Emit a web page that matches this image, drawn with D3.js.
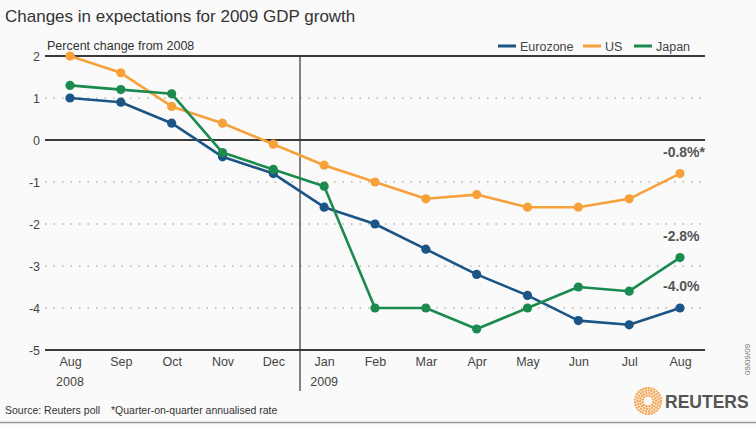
<!DOCTYPE html>
<html><head><meta charset="utf-8">
<script src="https://cdn.jsdelivr.net/npm/d3@7"></script>
<style>body{margin:0;background:#fafafa;}svg{display:block;font-family:"Liberation Sans",Arial,sans-serif;}</style>
</head><body>
<svg id="c" width="756" height="425"></svg>
<script>
const months = ["Aug","Sep","Oct","Nov","Dec","Jan","Feb","Mar","Apr","May","Jun","Jul","Aug"];
const years = ["2008","","","","","2009","","","","","","",""];
const eurozone = [1.0,0.9,0.4,-0.4,-0.8,-1.6,-2.0,-2.6,-3.2,-3.7,-4.3,-4.4,-4.0];
const us = [2.0,1.6,0.8,0.4,-0.1,-0.6,-1.0,-1.4,-1.3,-1.6,-1.6,-1.4,-0.8];
const japan = [1.3,1.2,1.1,-0.3,-0.7,-1.1,-4.0,-4.0,-4.5,-4.0,-3.5,-3.6,-2.8];
const yTicks = [2,1,0,-1,-2,-3,-4,-5];
const solidTicks = [2,0,-5];
const seriesNames = ["Eurozone","US","Japan"];
const colors = ["#1b5586","#f7a13b","#1b8a4f"];
const endLabels = ["-4.0%","-0.8%*","-2.8%"];

const svg = d3.select("#c");
const x = d3.scalePoint().domain(d3.range(months.length)).range([70,680]);
const y = d3.scaleLinear().domain([-5,2]).range([350,56]);
const left = 45, right = 705;

svg.append("rect").attr("width",756).attr("height",425).attr("fill","#fafafa");

svg.append("text").attr("x",5).attr("y",22).attr("font-size",17).attr("fill","#333")
  .text("Changes in expectations for 2009 GDP growth");

yTicks.forEach(t=>{
  const solid = solidTicks.includes(t);
  svg.append("line").attr("x1",left).attr("x2",right).attr("y1",y(t)).attr("y2",y(t))
    .attr("stroke",solid?"#3a3a3a":"#b5b5b5").attr("stroke-width",solid?2.2:1.6)
    .attr("stroke-dasharray",solid?null:"1.5,7");
});
const yAxis = d3.axisLeft(y).tickValues(yTicks).tickSize(0).tickPadding(0).tickFormat(d=>String(d));
const ya = svg.append("g").attr("transform","translate(40,0)").call(yAxis);
ya.select(".domain").remove();
ya.selectAll("text").attr("font-size",12.5).attr("fill","#444").attr("font-family","Liberation Sans, Arial, sans-serif").attr("dy","0.35em");

svg.append("text").attr("x",47).attr("y",50).attr("font-size",12.5).attr("fill","#333").text("Percent change from 2008");

svg.append("line").attr("x1",300).attr("x2",300).attr("y1",y(2)).attr("y2",391).attr("stroke","#333").attr("stroke-width",1.2);

const xAxis = d3.axisBottom(x).tickSize(0).tickPadding(0).tickFormat(i=>months[i]);
const xa = svg.append("g").attr("transform","translate(0,362)").call(xAxis);
xa.select(".domain").remove();
xa.selectAll("text").attr("font-size",12.5).attr("fill","#444").attr("font-family","Liberation Sans, Arial, sans-serif").attr("dy","0.35em");
years.forEach((yr,i)=>{ if(yr) svg.append("text").attr("x",x(i)).attr("y",386).attr("text-anchor","middle").attr("font-size",12.5).attr("fill","#444").text(yr); });

const data = [eurozone, us, japan];
const line = d3.line().x((d,i)=>x(i)).y(d=>y(d));
const order = [1,0,2];
order.forEach(k=>{
  const g = svg.append("g");
  g.append("path").attr("d",line(data[k])).attr("fill","none").attr("stroke",colors[k]).attr("stroke-width",2.6).attr("stroke-linejoin","round");
  g.selectAll("circle").data(data[k]).join("circle").attr("cx",(d,i)=>x(i)).attr("cy",d=>y(d)).attr("r",4.6).attr("fill",colors[k]);
});

data.forEach((s,k)=>{
  const last = s[s.length-1];
  svg.append("text").attr("x",x(s.length-1)-17).attr("y",y(last)-17).attr("font-size",14).attr("font-weight","bold").attr("fill","#555").text(endLabels[k]);
});

const legX = [498,583,634];
seriesNames.forEach((n,k)=>{
  svg.append("line").attr("x1",legX[k]).attr("x2",legX[k]+18).attr("y1",46).attr("y2",46).attr("stroke",colors[k]).attr("stroke-width",3);
  svg.append("text").attr("x",legX[k]+22).attr("y",50.5).attr("font-size",12.5).attr("fill","#444").text(n);
});

svg.append("text").attr("x",5).attr("y",414).attr("font-size",10.5).attr("fill","#333").text("Source: Reuters poll");
svg.append("text").attr("x",111).attr("y",414).attr("font-size",10.5).attr("fill","#333").text("*Quarter-on-quarter annualised rate");
svg.append("line").attr("x1",0).attr("x2",756).attr("y1",422.5).attr("y2",422.5).attr("stroke","#999").attr("stroke-width",1.5);

svg.append("text").attr("transform","translate(750,375) rotate(-90)").attr("font-size",8).attr("fill","#777").text("09/09/09");

const lg = svg.append("g").attr("transform","translate(648,401)");
for(let r=3;r<=13;r+=2.5){
  const n = Math.round(r*2.2);
  for(let j=0;j<n;j++){
    const a = j/n*2*Math.PI + r;
    lg.append("circle").attr("cx",r*Math.cos(a)).attr("cy",r*Math.sin(a)).attr("r",1.2).attr("fill","#f39a3c").attr("opacity",0.85);
  }
}
lg.append("circle").attr("r",4).attr("fill","#fafafa");
svg.append("text").attr("x",665).attr("y",408).attr("font-size",17.5).attr("font-weight","bold").attr("fill","#555").text("REUTERS");
</script>
</body></html>
